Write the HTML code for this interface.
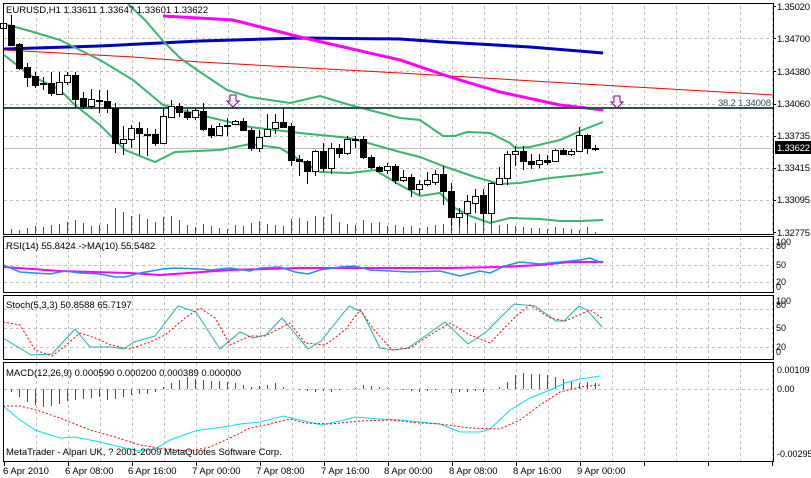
<!DOCTYPE html>
<html><head><meta charset="utf-8"><style>
html,body{margin:0;padding:0;background:#fff;width:811px;height:478px;overflow:hidden}
svg{display:block;font-family:"Liberation Sans",sans-serif;font-size:9.5px}
</style></head><body>
<svg id="s" width="811" height="478" xmlns="http://www.w3.org/2000/svg">
<rect width="811" height="478" fill="#fff"/>
<g id="grid" stroke="#c0c0c0" stroke-dasharray="3,3" stroke-width="1"></g>
<g id="vol" stroke="#008000"></g>
<line x1="4" y1="148.5" x2="773" y2="148.5" stroke="#c0c0c0"/>
<g id="lines" fill="none"></g>
<line x1="4" y1="108" x2="773" y2="108" stroke="#2f4f4f" stroke-width="2"/>
<g id="candles"></g>
<path d="M230 95h6v6h3l-6 6-6-6h3z" fill="#fff" stroke="#800080"/>
<path d="M614 96h6v6h3l-6 6-6-6h3z" fill="#fff" stroke="#800080"/>
<rect x="716" y="98" width="56" height="9" fill="#fff"/>
<text x="718" y="106" fill="#2f4f4f" textLength="53">38.2 1.34008</text>
<text x="6" y="13" fill="#000">EURUSD,H1  1.33611 1.33647 1.33601 1.33622</text>
<g fill="none" stroke="#000">
<rect x="3.5" y="3.5" width="770" height="231"/>
<rect x="3.5" y="236.5" width="770" height="56"/>
<rect x="3.5" y="295.5" width="770" height="64"/>
<rect x="3.5" y="362.5" width="770" height="99"/>
</g>
<g id="ticks" stroke="#000"></g>
<g fill="#000">
<text x="777" y="10" textLength="33">1.35020</text><text x="777" y="42" textLength="33">1.34700</text><text x="777" y="75" textLength="33">1.34380</text>
<text x="777" y="107" textLength="33">1.34060</text><text x="777" y="139" textLength="33">1.33735</text><text x="777" y="171" textLength="33">1.33415</text>
<text x="777" y="203" textLength="33">1.33095</text><text x="777" y="236" textLength="33">1.32775</text>
</g>
<rect x="775" y="141" width="36" height="13" fill="#000"/>
<text x="777" y="151" fill="#fff" textLength="33">1.33622</text>
<g fill="#000" font-size="9">
<text x="776" y="245">100</text><text x="776" y="249">80</text><text x="776" y="268">50</text><text x="776" y="285">20</text><text x="776" y="290">0</text>
<text x="776" y="304">100</text><text x="776" y="308">80</text><text x="776" y="331">50</text><text x="776" y="350">20</text><text x="776" y="355">0</text>
<text x="777" y="373">0.00109</text><text x="777" y="392">0.00</text><text x="777" y="457">-0.00295</text>
</g>
<text x="6" y="249">RSI(14) 55.8424  -&gt;MA(10) 55.5482</text>
<text x="6" y="308">Stoch(5,3,3) 50.8588 65.7197</text>
<text x="6" y="376">MACD(12,26,9) 0.000590 0.000200 0.000389 0.000000</text>
<text x="6" y="455">MetaTrader - Alpari UK, ? 2001-2009 MetaQuotes Software Corp.</text>
<g fill="#000">
<text x="3" y="474">6 Apr 2010</text><text x="65" y="474">6 Apr 08:00</text><text x="128" y="474">6 Apr 16:00</text>
<text x="192" y="474">7 Apr 00:00</text><text x="256" y="474">7 Apr 08:00</text><text x="321" y="474">7 Apr 16:00</text>
<text x="384" y="474">8 Apr 00:00</text><text x="449" y="474">8 Apr 08:00</text><text x="513" y="474">8 Apr 16:00</text>
<text x="577" y="474">9 Apr 00:00</text>
</g>
</svg>
<script>
var NS="http://www.w3.org/2000/svg";
function el(p,t,a){var e=document.createElementNS(NS,t);for(var k in a)e.setAttribute(k,a[k]);document.getElementById(p).appendChild(e);return e;}
var hy=[[6,232,[38,71,104,136,168,200]],[237,292,[248,265,282]],[296,359,[309,328,347]],[363,461,[389]]];
hy.forEach(function(p){p[2].forEach(function(y){el("grid","line",{x1:4,x2:773,y1:y+.5,y2:y+.5});});
 for(var x=36;x<773;x+=32)el("grid","line",{x1:x+.5,x2:x+.5,y1:p[0],y2:p[1]});});
[6,38,71,104,136,168,200,232].forEach(function(y){el("ticks","line",{x1:773,x2:776,y1:y+.5,y2:y+.5});});
for(var x=4;x<773;x+=64)el("ticks","line",{x1:x+.5,x2:x+.5,y1:462,y2:466});
var C=[[20,30,28,23],[15,46,25,45],[43,70,44,68],[63,87,67,77],[72,88,76,85],[77,90,83,84],[72,96,83,93],[72,95,94,82],[72,85,82,75],[72,108,75,99],[92,109,98,106],[89,109,106,99],[90,113,100,101],[90,113,101,108],[103,153,108,143],[126,155,143,139],[125,148,139,128],[122,155,128,133],[128,156,134,135],[129,146,134,143],[108,143,143,116],[100,117,117,106],[103,117,106,112],[109,120,112,117],[108,120,117,110],[103,131,111,129],[125,138,128,135],[123,136,135,126],[118,136,125,126],[120,125,124,121],[118,131,121,130],[128,151,130,148],[130,152,148,137],[114,134,136,129],[114,134,128,122],[108,128,122,127],[123,166,126,160],[155,176,159,161],[160,184,161,171],[150,176,171,151],[143,172,151,168],[143,174,168,148],[144,158,148,153],[136,155,153,139],[136,148,139,140],[136,159,139,157],[155,169,157,167],[166,172,167,171],[163,174,170,166],[164,184,166,180],[170,182,180,177],[174,197,177,189],[180,195,189,184],[172,186,184,180],[170,185,182,174],[166,205,174,191],[183,226,191,217],[208,226,217,213],[195,224,213,201],[189,213,203,196],[189,222,195,213],[182,223,213,183],[167,184,184,178],[151,185,178,154],[146,166,154,151],[146,170,151,161],[154,169,161,164],[154,168,164,160],[155,165,160,162],[149,162,161,150],[148,155,150,154],[149,156,154,151],[127,152,151,135],[134,154,135,148],[145,151,148,149]];
C.forEach(function(c,i){var x=3+8*i;
 el("candles","line",{x1:x+.5,x2:x+.5,y1:c[0],y2:c[1],stroke:"#000"});
 var t=Math.min(c[2],c[3]),b=Math.max(c[2],c[3]),w=c[3]<c[2];
 if(b-t<1)el("candles","line",{x1:x-3,x2:x+4,y1:t+.5,y2:t+.5,stroke:"#000"});
 else el("candles","rect",{x:x-2.5,y:t+.5,width:6,height:b-t,fill:w?"#fff":"#000",stroke:"#000"});
 var h=[3,5,4,6,8,7,9,10,12,14,11,8,9,10,26,22,18,20,15,12,17,18,14,9,7,10,8,6,5,9,8,11,13,10,9,8,15,16,13,18,17,20,12,10,9,14,11,12,8,9,7,8,6,7,9,10,12,14,16,11,13,15,9,10,8,7,6,6,5,7,6,5,4,7,2][i];
 el("vol","line",{x1:x+.5,x2:x+.5,y1:234,y2:234-h});
});
function pl(pts,col,w,dash){var d="M"+pts.map(function(p){return p[0]+" "+p[1]}).join("L");var a={d:d,stroke:col,"stroke-width":w};if(dash)a["stroke-dasharray"]=dash;el("lines","path",a);}
pl([[4,49],[100,46],[200,41],[300,38],[400,39],[443,42],[530,47],[603,53]],"#0000c0",3);
pl([[4,50],[133,57],[200,62],[400,73],[600,85],[773,95]],"#ff0000",1);
pl([[163,16],[233,20],[300,37],[400,60],[450,77],[500,92],[560,105],[603,110]],"#ff00ff",3);
var G="#3cb371";
pl([[128,4],[145,20],[163,41],[180,58],[200,72],[227,90],[250,97],[290,103],[320,96],[350,105],[400,118],[420,120],[443,136],[455,136],[467,132],[490,133],[510,143],[515,148],[530,147],[560,140],[580,131],[603,122]],G,2);
pl([[4,24],[30,31],[60,40],[100,60],[133,80],[163,105],[200,115],[250,127],[300,133],[350,138],[400,152],[420,157],[443,166],[475,177],[500,184],[520,183],[550,178],[580,175],[603,172]],G,2);
pl([[4,55],[30,75],[60,90],[75,105],[100,125],[125,150],[155,162],[175,152],[220,150],[250,144],[280,148],[300,160],[320,172],[350,173],[375,170],[400,185],[420,196],[440,193],[455,208],[470,216],[490,223],[510,218],[540,219],[560,221],[580,221],[603,220]],G,2);
pl([[4,267],[60,271],[130,273],[160,275],[230,270],[300,268],[450,268],[500,267],[540,265],[570,262],[603,262]],"#ff00ff",2);
pl([[3,265],[20,272],[50,274],[65,271],[80,273],[100,274],[115,277],[125,277],[140,273],[163,269],[175,268],[200,269],[210,270],[230,268],[250,271],[260,268],[280,267],[295,272],[308,274],[320,270],[340,267],[355,266],[370,270],[390,271],[410,272],[440,271],[460,276],[480,271],[490,273],[505,266],[520,262],[540,264],[560,262],[580,260],[590,258],[602,263]],"#1e90ff",1.5);
pl([[3,338],[31,355],[52,354],[75,329],[90,347],[111,347],[124,349],[134,342],[155,336],[178,306],[196,312],[220,349],[240,332],[253,338],[266,335],[282,318],[308,349],[321,341],[349,306],[362,312],[380,348],[393,350],[408,348],[445,322],[468,344],[486,332],[514,304],[535,306],[556,321],[564,321],[579,306],[587,310],[602,327]],"#20b2aa",1);
pl([[3,322],[20,325],[35,350],[52,356],[65,346],[80,333],[95,338],[111,345],[130,349],[150,342],[165,335],[185,318],[200,308],[215,318],[230,345],[250,336],[265,336],[290,323],[305,343],[325,345],[345,330],[360,310],[375,331],[392,350],[410,348],[430,335],[450,323],[470,335],[490,343],[515,317],[530,305],[550,318],[565,321],[590,310],[602,318]],"#ff0000",1,"2,2");
var H=[-2,-3,-8,-13,-16,-18,-17,-15,-12,-11,-10,-9,-8,-11,-10,-8,-6,-5,-5,-3,2,6,9,12,10,9,8,8,7,6,4,2,3,4,6,2,0,-1,-2,-3,-2,-3,-1,0,1,4,3,2,1,0,-1,-2,-3,-2,-1,0,-4,-3,-3,-2,-3,0,2,7,14,16,15,15,14,12,10,8,6,7,6];
H.forEach(function(h,i){var x=3+8*i;if(h==0)return;el("lines","line",{x1:x+.5,x2:x+.5,y1:389,y2:389-h,stroke:h>0?"#008000":"#ff0000"});});
pl([[3,406],[20,420],[35,430],[60,438],[75,437],[100,442],[125,448],[140,451],[155,449],[170,440],[195,431],[215,428],[230,426],[240,424],[260,422],[283,416],[300,420],[322,425],[340,421],[355,417],[380,419],[400,420],[420,422],[440,424],[460,432],[480,432],[490,429],[510,410],[530,398],[550,390],[565,383],[580,379],[600,376]],"#00e5ee",1);
pl([[3,406],[20,406],[40,411],[65,420],[90,430],[115,437],[140,445],[165,449],[190,451],[210,447],[230,438],[250,428],[265,425],[290,419],[305,423],[330,424],[360,421],[390,420],[420,423],[440,424],[470,428],[500,429],[520,420],[540,405],[560,392],[580,387],[600,385]],"#ff0000",1,"2,2");
</script>
</body></html>
